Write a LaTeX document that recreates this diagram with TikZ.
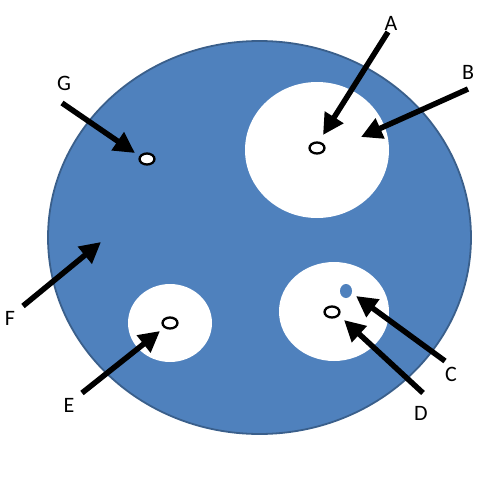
\documentclass[tikz,border=0pt]{standalone}
\usepackage{fontspec}
\setmainfont{Carlito}
\usetikzlibrary{arrows.meta,shapes.geometric}
\definecolor{cellblue}{HTML}{4F81BD}
\definecolor{celledge}{HTML}{3A5F8B}

\begin{document}
\begin{tikzpicture}[x=1pt, y=-1pt,
    hole/.style={ellipse, draw=black, fill=white, line width=2.3pt,
      inner sep=0pt, minimum width=15pt, minimum height=11pt},
    pointer/.style={line width=5.5pt, -{Triangle[width=21pt,length=21pt]}},
    tag/.style={font=\fontsize{22}{26}\selectfont, inner sep=0pt}]
    \useasboundingbox (0,0) rectangle (502,504);
    %% --- Cell body ---
    \draw[fill=cellblue, draw=celledge, line width=1.8pt]
      (259.5,237.5) ellipse (211.5 and 196.5);
    %% --- Vacuoles ---
    \fill[white] (317,150) ellipse (72 and 68);
    \fill[white] (170,323) ellipse (42 and 39);
    \fill[white] (334,311.5) ellipse (55 and 49.5);
    %% small bodies
    \node[hole] (holeA) at (317,148) {};
    \node[hole] (holeG) at (147,159) {};
    \node[hole] (holeE) at (170,323) {};
    \node[hole] (holeD) at (332,312) {};
    \node[ellipse, fill=cellblue, inner sep=0pt, minimum width=12pt,
      minimum height=14pt] (dotC) at (346,291) {};
    %% --- Labels ---
    \foreach \n/\x/\y in {A/391/23, B/468/72, G/64/83, F/10/318,
                          E/69/405, C/451/374, D/421/413} {
      \node[tag] (lab\n) at (\x,\y) {\n};
    }
    %% --- Pointers ---
    \foreach \n/\tx/\ty/\hx/\hy in {A/388/32/323/135, B/468/89/361/137,
        G/62/103/135/153, F/23/306/101/242, E/82/393/160/331,
        C/445/361/356/296, D/423/393/344/320} {
      \coordinate (tail\n) at (\tx,\ty);
      \coordinate (tip\n) at (\hx,\hy);
      \draw[pointer] (tail\n) -- (tip\n);
    }
  \end{tikzpicture}
\end{document}
